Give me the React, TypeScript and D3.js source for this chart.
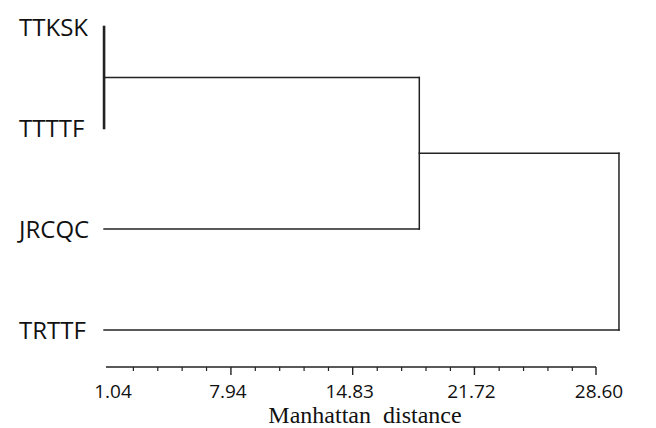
import React from "react";
import * as d3 from "d3";

const leaves = ["TTKSK", "TTTTF", "JRCQC", "TRTTF"];
// merges: [left child, right child, height (Manhattan distance)]
const mergeLeft = ["TTKSK", "C1", "C2"];
const mergeRight = ["TTTTF", "JRCQC", "TRTTF"];
const mergeNames = ["C1", "C2", "C3"];
const mergeHeights = [0.76, 18.6, 29.9];
const tickLabels = [1.04, 7.94, 14.83, 21.72, 28.6];
const minorPerMajor = 5;
const axisTitle = "Manhattan\u00a0\u00a0distance";

const W = 656;
const H = 428;

export default function App() {
  const x = d3.scaleLinear().domain([1.04, 28.6]).range([109, 596]);
  const y = d3.scalePoint<string>().domain(leaves).range([27, 330]);

  const pos: Record<string, { x: number; y: number }> = {};
  const leafBase = d3.min(mergeHeights) as number;
  leaves.forEach((l) => {
    pos[l] = { x: x(leafBase), y: y(l) as number };
  });

  const segs: { x1: number; y1: number; x2: number; y2: number; w: number }[] = [];
  mergeNames.forEach((name, i) => {
    const a = pos[mergeLeft[i]];
    const b = pos[mergeRight[i]];
    const px = x(mergeHeights[i]);
    const py = (a.y + b.y) / 2;
    const thick = mergeHeights[i] === leafBase ? 2.6 : 1.5;
    segs.push({ x1: a.x, y1: a.y, x2: px, y2: a.y, w: 1.5 });
    segs.push({ x1: b.x, y1: b.y, x2: px, y2: b.y, w: 1.5 });
    segs.push({ x1: px, y1: a.y, x2: px, y2: b.y, w: thick });
    pos[name] = { x: px, y: py };
  });

  const axisY = 367;
  const step = (tickLabels[1] - tickLabels[0]) / minorPerMajor;
  const minorTicks: number[] = [];
  for (let i = 1; i < (tickLabels.length - 1) * minorPerMajor; i++) {
    if (i % minorPerMajor !== 0) minorTicks.push(tickLabels[0] + i * step);
  }

  return (
    <svg
      width={W}
      height={H}
      style={{ position: "absolute", left: 0, top: 0, background: "#fff" }}
    >
      {segs.map((s, i) => (
        <line
          key={i}
          x1={s.x1}
          y1={s.y1}
          x2={s.x2}
          y2={s.y2}
          stroke="#222"
          strokeWidth={s.w}
          strokeLinecap="square"
        />
      ))}
      {leaves.map((l) => (
        <text
          key={l}
          x={19}
          y={(y(l) as number) + 9}
          fontFamily="'Open Sans', sans-serif"
          fontSize={24}
          fill="#111"
        >
          {l}
        </text>
      ))}
      <line
        x1={106}
        x2={x(28.6)}
        y1={axisY}
        y2={axisY}
        stroke="#222"
        strokeWidth={1.6}
      />
      {minorTicks.map((t, i) => (
        <line key={"m" + i} x1={x(t)} x2={x(t)} y1={axisY} y2={axisY + 4} stroke="#222" strokeWidth={1.2} />
      ))}
      {tickLabels.slice(1).map((t, i) => (
        <line key={"M" + i} x1={x(t)} x2={x(t)} y1={axisY} y2={axisY + 8} stroke="#222" strokeWidth={1.4} />
      ))}
      {tickLabels.map((t, i) => (
        <text
          key={"l" + i}
          x={x(t) + (i === 0 ? 4 : i === tickLabels.length - 1 ? 3 : -3)}
          y={398}
          textAnchor="middle"
          fontFamily="'Open Sans', sans-serif"
          fontSize={19}
          fill="#111"
        >
          {t.toFixed(2)}
        </text>
      ))}
      <text
        x={365}
        y={423}
        textAnchor="middle"
        fontFamily="'Liberation Serif', 'Times New Roman', serif"
        fontSize={24}
        fill="#111"
      >
        {axisTitle}
      </text>
    </svg>
  );
}
